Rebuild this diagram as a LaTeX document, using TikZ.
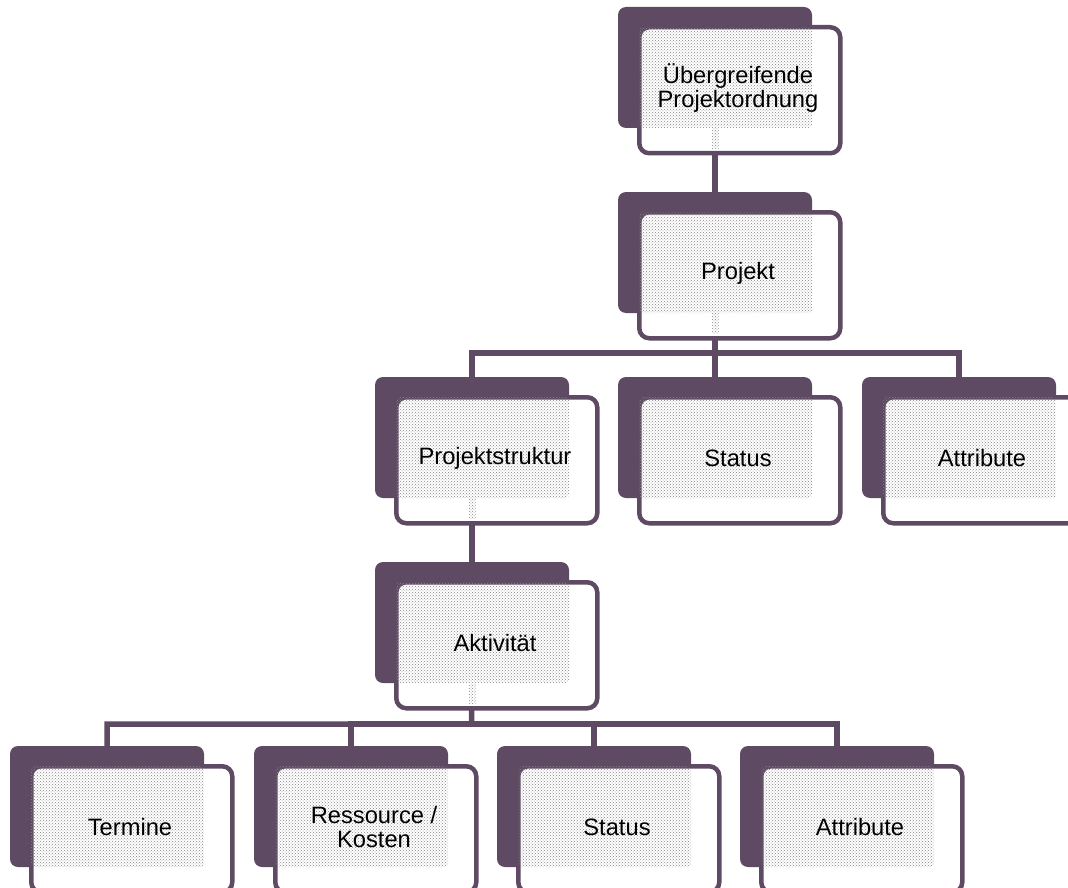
\documentclass[tikz,border=0pt]{standalone}
\usepackage{fontspec}
\setmainfont{Liberation Sans}
\usetikzlibrary{patterns}
\definecolor{plum}{RGB}{94,75,99}
\pgfdeclarelayer{links}
\pgfsetlayers{links,main}
\tikzset{
  backbox/.style={fill=plum, rounded corners=8pt, minimum width=194pt,
    minimum height=121pt, inner sep=0pt, outer sep=0pt, anchor=north west},
  frontbox/.style={draw=plum, fill=white, line width=4.5pt, rounded corners=10pt,
    minimum width=201pt, minimum height=126pt, inner sep=0pt, anchor=north west},
  textarea/.style={pattern=crosshatch dots, pattern color=gray!95, rounded corners=4pt,
    minimum width=173pt, minimum height=101pt, inner sep=0pt, anchor=north west},
  stubarea/.style={pattern=crosshatch dots, pattern color=gray!95,
    minimum width=7pt, minimum height=20pt, inner sep=0pt, anchor=north},
  boxtext/.style={font=\fontsize{23.7}{24}\selectfont, align=center, text=black, inner sep=0pt},
  link/.style={draw=plum, line width=5.5pt},
}
% one chart entry: name, x, y of the back card, caption
\newcommand\orgunit[4]{%
  \node[backbox] (#1) at (#2,#3) {};
  \node[frontbox] (#1-f) at (#2+19,#3+18) {};
  \node[textarea] (#1-a) at (#2+21,#3+20) {};
  \node[boxtext] (#1-t) at (#2+120,#3+81) {#4};
}
% dotted stub where a link leaves a card
\newcommand\orgstub[1]{\node[stubarea] (#1-s) at (#1.south) {};}
\begin{document}
\begin{tikzpicture}[x=1pt,y=-1pt]
  \useasboundingbox (0,0) rectangle (1068,888);
  \clip (0,0) rectangle (1068,888);

  \orgunit{top}{618}{7}{Übergreifende\\Projektordnung}
  \orgunit{proj}{618}{192}{Projekt}
  \orgunit{struct}{375}{377}{Projektstruktur}
  \orgunit{pstat}{618}{377}{Status}
  \orgunit{pattr}{862}{377}{Attribute}
  \orgunit{akt}{375}{562}{Aktivität}
  \orgunit{term}{10}{746}{Termine}
  \orgunit{ress}{254}{746}{Ressource /\\Kosten}
  \orgunit{astat}{497}{746}{Status}
  \orgunit{aattr}{740}{746}{Attribute}

  \orgstub{top}
  \orgstub{proj}
  \orgstub{struct}
  \orgstub{akt}

  \coordinate (bar1) at (715,353);
  \coordinate (bar2) at (471.5,724);

  \begin{pgfonlayer}{links}
    \draw[link] (top.south) -- (proj.north);
    \draw[link] (proj.south) -- (bar1) -| (struct.north);
    \draw[link] (bar1) -| (pattr.north);
    \draw[link] (bar1) -- (pstat.north);
    \draw[link] (struct.south) -- (akt.north);
    \draw[link] (akt.south) -- (bar2) -| (term.north);
    \draw[link] (bar2) -| (ress.north);
    \draw[link] (bar2) -| (astat.north);
    \draw[link] (bar2) -| (aattr.north);
  \end{pgfonlayer}
\end{tikzpicture}
\end{document}
